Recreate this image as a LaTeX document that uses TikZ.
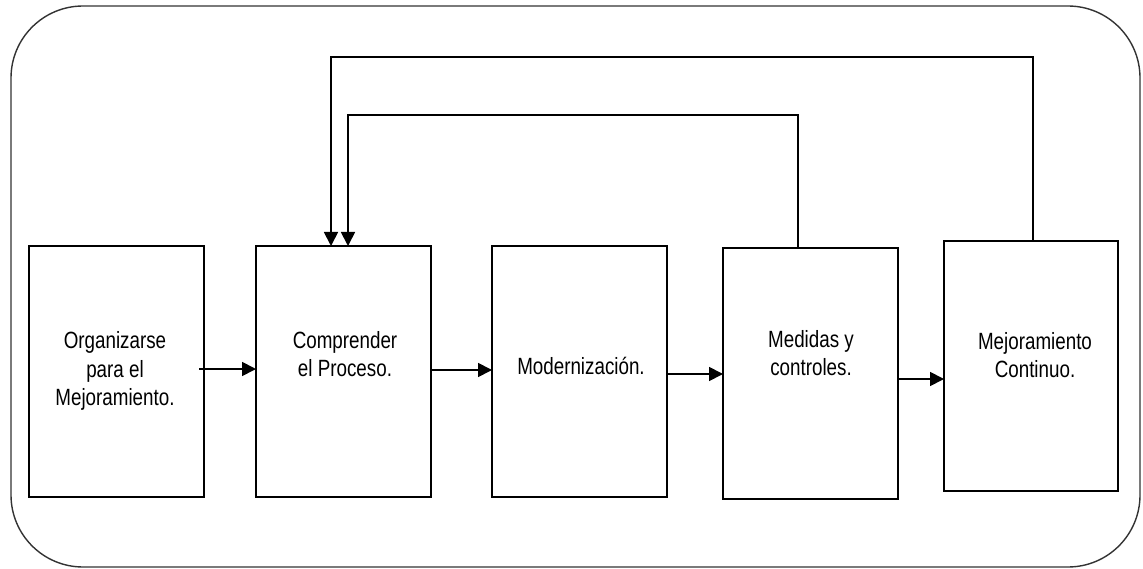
\documentclass[tikz,border=0pt]{standalone}
\usepackage{fontspec}
\setmainfont{Liberation Sans}[FakeStretch=0.8]
\usetikzlibrary{arrows.meta}
\begin{document}
\begin{tikzpicture}[x=1pt,y=-1pt,
  stepbox/.style={draw=black,line width=1.8pt,rectangle,inner sep=0pt,outer sep=0pt,
    minimum width=175pt,minimum height=251pt},
  lbl/.style={align=center,inner sep=0pt,text=black,
    font=\fontsize{23.5}{28.5}\selectfont},
  arr/.style={draw=black,line width=1.8pt,-{Triangle[length=14pt,width=14pt]}},
  link/.style={draw=black,line width=1.8pt}]
\useasboundingbox (0,0) rectangle (1143,569);
% outer frame
\draw[line width=1.4pt,draw=black!80,rounded corners=72pt] (11,6) rectangle (1140,567);
% process boxes
\node[stepbox] (b1) at (116.5,371.5) {};
\node[stepbox] (b2) at (343.5,371.5) {};
\node[stepbox] (b3) at (579.5,371.5) {};
\node[stepbox] (b4) at (810.5,373.5) {};
\node[stepbox,minimum width=174pt,minimum height=250pt] (b5) at (1031,366) {};
% labels
\node[lbl] (t1) at (115,371) {Organizarse\\para el\\Mejoramiento.};
\node[lbl] (t2) at (345,354) {Comprender\\el Proceso.};
\node[lbl] (t3) at (581,366) {Modernización.};
\node[lbl] (t4) at (811,353) {Medidas y\\controles.};
\node[lbl] (t5) at (1035,355) {Mejoramiento\\Continuo.};
% forward flow
\draw[arr] ([xshift=-5pt]b1.east |- 0,369) -- (b2.west |- 0,369);
\draw[arr] (b2.east |- 0,370) -- (b3.west |- 0,370);
\draw[arr] (b3.east |- 0,374) -- (b4.west |- 0,374);
\draw[arr] (b4.east |- 0,379) -- (b5.west |- 0,379);
% feedback loops
\coordinate (o1) at (1033,57);
\coordinate (o2) at (331,57);
\coordinate (i1) at (798,115);
\coordinate (i2) at (348,115);
\draw[arr] (b5.north -| o1) -- (o1) -- (o2) -- (b2.north -| o2);
\draw[arr] (b4.north -| i1) -- (i1) -- (i2) -- (b2.north -| i2);
\end{tikzpicture}
\end{document}
